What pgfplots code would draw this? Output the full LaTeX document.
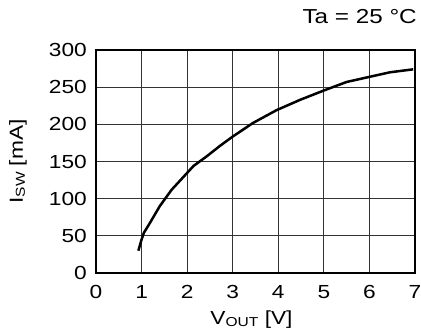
\documentclass[border=0pt]{standalone}
\usepackage{fontspec}
\setmainfont{Liberation Sans}[FakeStretch=1.2]
\usepackage{pgfplots}
\pgfplotsset{compat=1.18}
\newcommand{\sub}[1]{\raisebox{-0.2ex}{\fontsize{13}{13}\selectfont #1}}
\begin{document}
\begin{tikzpicture}
\useasboundingbox (-96bp,-63bp) rectangle (325bp,273bp);
\begin{axis}[
  at={(0,0)}, anchor=south west,
  scale only axis,
  width=319bp, height=223bp,
  xmin=0, xmax=7, ymin=0, ymax=300,
  xtick={0,1,...,7},
  ytick={0,50,...,300},
  major tick length=0pt,
  grid=major,
  major grid style={line width=1bp, black!80},
  axis line style={line width=2bp, black},
  font=\fontsize{19}{22}\selectfont,
  /pgf/number format/assume math mode=true,
  xticklabel style={anchor=north, inner sep=0pt, yshift=-12bp},
  yticklabel style={anchor=east, inner sep=0pt, xshift=-9bp},
  xlabel={V\sub{OUT} [V]},
  ylabel={I\sub{SW} [mA]},
  every axis x label/.style={at={(axis description cs:0.4875,-0.2108)}, anchor=center},
  every axis y label/.style={at={(axis description cs:-0.2445,0.5)}, rotate=90, anchor=center},
  title={Ta = 25 °C},
  title style={at={(axis description cs:1,1)}, anchor=base east, inner sep=0pt, yshift=21bp, xshift=2bp, font=\fontsize{20.3}{24}\selectfont},
]
\addplot[line width=2.5bp, black, line join=round] coordinates {
(0.93,30) (1.00,45) (1.05,54) (1.18,67) (1.40,90) (1.66,112) (1.90,128) (2.14,144) (2.43,157) (2.72,171) (3.01,184) (3.45,202) (3.96,219) (4.48,233) (5.02,246) (5.50,257) (6.01,264) (6.45,270) (6.96,274)
};
\end{axis}
\end{tikzpicture}
\end{document}
